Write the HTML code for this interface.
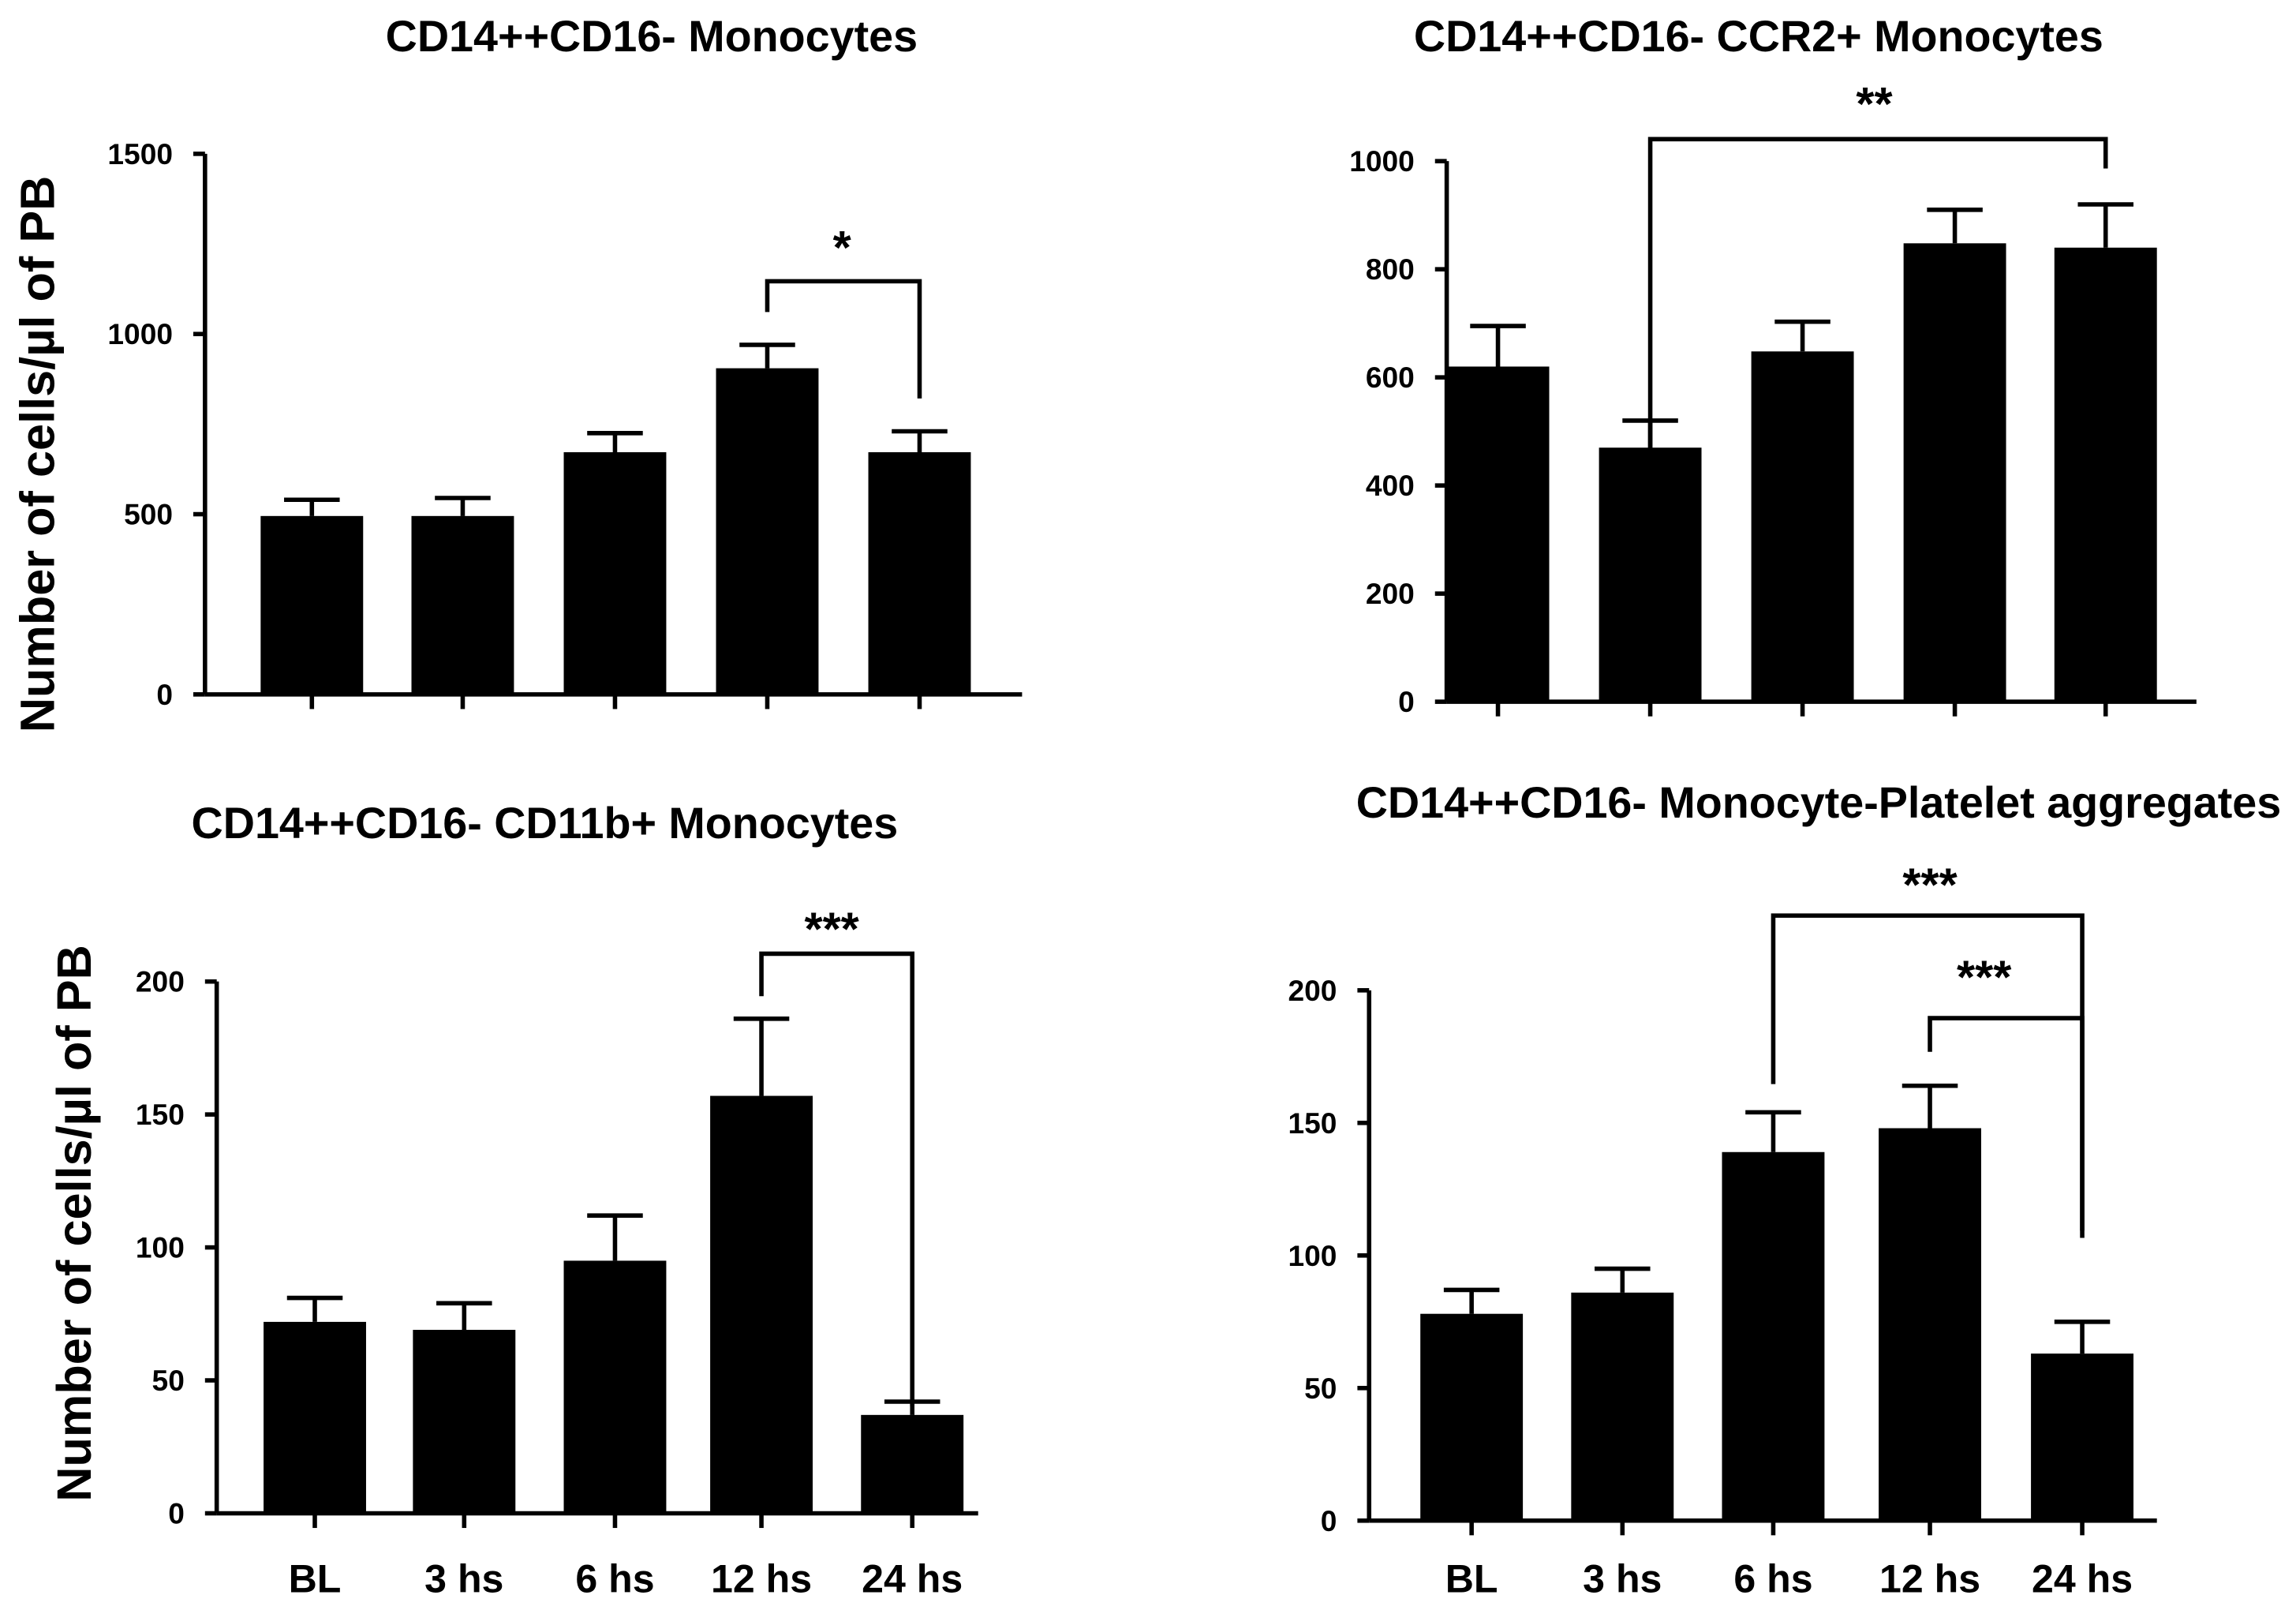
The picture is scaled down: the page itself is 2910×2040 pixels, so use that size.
<!DOCTYPE html>
<html><head><meta charset="utf-8"><style>
html,body{margin:0;padding:0;background:#fff;}
svg{display:block;}
text{font-family:"Liberation Sans",Arial,sans-serif;font-weight:bold;fill:#000;}
</style></head><body>
<svg id="fig" width="2910" height="2040" viewBox="0 0 1568 1099" preserveAspectRatio="none" xmlns="http://www.w3.org/2000/svg"></svg>
<script>
const categories = ["BL","3 hs","6 hs","12 hs","24 hs"];
const p1Values = [495, 495, 672, 905, 672];
const p1Errors = [540, 545, 725, 970, 730];
const p1Ticks = [0, 500, 1000, 1500];
const p2Values = [620, 470, 648, 848, 840];
const p2Errors = [695, 520, 703, 910, 920];
const p2Ticks = [0, 200, 400, 600, 800, 1000];
const p3Values = [72, 69, 95, 157, 37];
const p3Errors = [81, 79, 112, 186, 42];
const p3Ticks = [0, 50, 100, 150, 200];
const p4Values = [78, 86, 139, 148, 63];
const p4Errors = [87, 95, 154, 164, 75];
const p4Ticks = [0, 50, 100, 150, 200];

const svg = document.getElementById('fig');
const NS = 'http://www.w3.org/2000/svg';
function el(tag, attrs, parent){const e=document.createElementNS(NS,tag);for(const k in attrs)e.setAttribute(k,attrs[k]);(parent||svg).appendChild(e);return e;}

const panels = [
 {name:'cd14-monocytes',title:'CD14++CD16- Monocytes',tx:445,ty:35,x0:140,x1:698,yTop:105,yBot:474,max:1500,centers:[213,316,420,524,628],vals:p1Values,errs:p1Errors,ticks:p1Ticks,
  brackets:[{a:3,b:4,y:192,ya:213,yb:272,lab:'*',lx:575,ly:180}],ylab:{x:37,y:310},xlabels:false},
 {name:'ccr2-monocytes',title:'CD14++CD16- CCR2+ Monocytes',tx:1201,ty:35,x0:988,x1:1500,yTop:110,yBot:479,max:1000,centers:[1023,1127,1231,1335,1438],vals:p2Values,errs:p2Errors,ticks:p2Ticks,
  brackets:[{a:1,b:4,y:95,ya:315,yb:115,lab:'**',lx:1280,ly:82}],ylab:null,xlabels:false},
 {name:'cd11b-monocytes',title:'CD14++CD16- CD11b+ Monocytes',tx:372,ty:572,x0:148,x1:668,yTop:670,yBot:1033,max:200,centers:[215,317,420,520,623],vals:p3Values,errs:p3Errors,ticks:p3Ticks,
  brackets:[{a:3,b:4,y:651,ya:680,yb:960,lab:'***',lx:568,ly:645}],ylab:{x:62,y:835},xlabels:true},
 {name:'platelet-aggregates',title:'CD14++CD16- Monocyte-Platelet aggregates',tx:1242,ty:558,x0:935,x1:1473,yTop:676,yBot:1038,max:200,centers:[1005,1108,1211,1318,1422],vals:p4Values,errs:p4Errors,ticks:p4Ticks,
  brackets:[{a:2,b:4,y:625,ya:740,yb:840,lab:'***',lx:1318,ly:615},{a:3,b:4,y:695,ya:718,yb:845,lab:'***',lx:1355,ly:678}],ylab:null,xlabels:true}
];

panels.forEach(p=>{
  const g=el('g',{});
  
  
  const Y=v=>p.yBot-(v/p.max)*(p.yBot-p.yTop);
  const t=el('text',{x:p.tx,y:p.ty,'font-size':30,'text-anchor':'middle'},g);t.textContent=p.title;
  
  
  const ya=el('line',{x1:p.x0,y1:p.yTop,x2:p.x0,y2:p.yBot,stroke:'#000','stroke-width':3},g);
  
  
  const xa=el('line',{x1:p.x0,y1:p.yBot,x2:p.x1,y2:p.yBot,stroke:'#000','stroke-width':3},g);
  
  
  p.ticks.forEach(v=>{
    const y=Y(v);
    el('line',{x1:p.x0-8,y1:y,x2:p.x0,y2:y,stroke:'#000','stroke-width':3},g);
    const tl=el('text',{x:p.x0-22,y:y+7,'font-size':20,'text-anchor':'end'},g);tl.textContent=v;
    
    
  });
  p.centers.forEach((c,i)=>{
    el('line',{x1:c,y1:p.yBot,x2:c,y2:p.yBot+10,stroke:'#000','stroke-width':3},g);
    const eb=el('path',{d:`M${c},${Y(p.vals[i])} V${Y(p.errs[i])} M${c-19},${Y(p.errs[i])} H${c+19}`,stroke:'#000','stroke-width':3,fill:'none'},g);
    
    
    const b=el('rect',{x:c-35,y:Y(p.vals[i]),width:70,height:p.yBot-Y(p.vals[i]),fill:'#000'},g);
    
    
    if(p.xlabels){
      const xl=el('text',{x:c,y:1087,'font-size':27,'text-anchor':'middle'},g);xl.textContent=categories[i];
      
      
    }
  });
  p.brackets.forEach(br=>{
    const xa_=p.centers[br.a], xb=p.centers[br.b];
    const bp=el('path',{d:`M${xa_},${br.ya} V${br.y} H${xb} V${br.yb}`,stroke:'#000','stroke-width':3,fill:'none'},g);
    
    
    const st=el('text',{x:br.lx,y:br.ly,'font-size':32,'text-anchor':'middle'},g);st.textContent=br.lab;
    
    
  });
  if(p.ylab){
    const yl=el('text',{x:0,y:0,'font-size':33,'text-anchor':'middle',transform:`translate(${p.ylab.x},${p.ylab.y}) rotate(-90)`},g);
    yl.textContent='Number of cells/µl of PB';
    
    
  }
});
</script>
</body></html>
